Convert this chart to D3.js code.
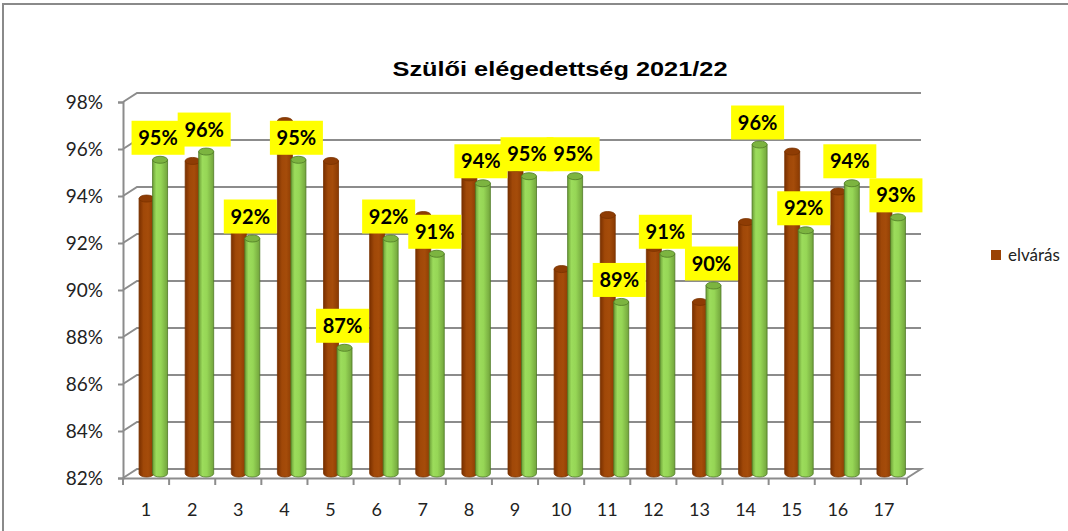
<!DOCTYPE html>
<html><head><meta charset="utf-8">
<script src="https://cdn.jsdelivr.net/npm/d3@7"></script>
<style>
html,body{margin:0;padding:0;background:#fff;}
svg{display:block;}
</style></head>
<body>
<svg id="chart" width="1068" height="531"></svg>
<script>
const title = "Szülői elégedettség 2021/22";
const categories = ["1","2","3","4","5","6","7","8","9","10","11","12","13","14","15","16","17"];
const elvaras = [93.7, 95.3, 92.4, 97.0, 95.3, 92.4, 93.0, 94.6, 95.0, 90.7, 93.0, 91.6, 89.3, 92.7, 95.7, 94.0, 93.3];
const elegedettseg = [95.35, 95.7, 92.0, 95.35, 87.35, 92.0, 91.35, 94.35, 94.65, 94.65, 89.3, 91.35, 90.0, 96.0, 92.35, 94.35, 92.9];
const yTicks = [82, 84, 86, 88, 90, 92, 94, 96, 98];
const legendLabel = "elvárás";

const svg = d3.select("#chart");
const defs = svg.append("defs");

// geometry
const X0 = 123, X1 = 907, DX = 14, DY = -9;
const x = d3.scaleBand().domain(categories).range([X0, X1]).paddingInner(0).paddingOuter(0);
const yF = d3.scaleLinear().domain([82, 98]).range([478, 102]);
const yMid = v => yF(v) + DY / 2;

// frame
svg.append("rect").attr("x", 3).attr("y", 4).attr("width", 1100).attr("height", 560)
  .attr("fill", "none").attr("stroke", "#8a8a8a").attr("stroke-width", 2);

// title
svg.append("text").attr("x", 560).attr("y", 76).attr("text-anchor", "middle")
  .attr("font-family", "Liberation Sans, Arial, sans-serif").attr("font-weight", "bold")
  .attr("font-size", 20).attr("textLength", 335).attr("lengthAdjust", "spacingAndGlyphs")
  .attr("fill", "#000").text(title);

// gradients
function cylGrad(id, stops) {
  const g = defs.append("linearGradient").attr("id", id).attr("x1", "0").attr("x2", "1").attr("y1", "0").attr("y2", "0");
  stops.forEach(s => g.append("stop").attr("offset", s[0]).attr("stop-color", s[1]));
}
cylGrad("gBrown", [[0, "#7a3000"], [0.3, "#a04808"], [0.6, "#a54c0a"], [1, "#8a3a02"]]);
cylGrad("gGreen", [[0, "#6c9e36"], [0.25, "#9cdc5c"], [0.55, "#96d656"], [1, "#72a43c"]]);

// walls and gridlines
const grid = svg.append("g").attr("stroke", "#8c8c8c").attr("stroke-width", 2).attr("fill", "none");
yTicks.forEach(t => {
  const yy = yF(t);
  if (t === 82) {
    grid.append("path").attr("d",
      `M${X0},${yy} L${X0 + DX},${yy + DY} L${X1 + DX},${yy + DY} L${X1},${yy}`);
  } else {
    grid.append("path").attr("d", `M${X0},${yy} L${X0 + DX},${yy + DY} L${X1 + DX},${yy + DY}`);
  }
});

// y axis
const yAxis = svg.append("g").attr("transform", `translate(${X0},0)`)
  .call(d3.axisLeft(yF).tickValues(yTicks).tickSize(5).tickPadding(15).tickFormat(d => d + "%"));
yAxis.select(".domain").attr("stroke", "#8c8c8c").attr("stroke-width", 2);
yAxis.selectAll(".tick line").attr("stroke", "#8c8c8c").attr("stroke-width", 2);
yAxis.selectAll(".tick text").attr("font-family", "Lato, Carlito, Calibri, sans-serif")
  .attr("font-size", 19).attr("fill", "#222");

// x axis
const xAxis = svg.append("g").attr("transform", `translate(0,${yF(82)})`)
  .call(d3.axisBottom(x).tickSize(0).tickPadding(25));
xAxis.select(".domain").attr("stroke", "#8c8c8c").attr("stroke-width", 2);
xAxis.selectAll(".tick text").attr("font-family", "Lato, Carlito, Calibri, sans-serif")
  .attr("font-size", 18).attr("fill", "#222");
// band boundary ticks
const bounds = categories.map(c => x(c)).concat([x(categories[categories.length - 1]) + x.bandwidth()]);
svg.append("g").selectAll("line").data(bounds).join("line")
  .attr("x1", d => d).attr("x2", d => d).attr("y1", yF(82)).attr("y2", yF(82) + 7)
  .attr("stroke", "#8c8c8c").attr("stroke-width", 2);

// bars (cylinders)
const BW = 15, RY = 3.5;
function cylinder(g, cx, v, fill, topFill, stroke) {
  const yt = yMid(v), yb = yMid(82);
  g.append("path")
    .attr("d", `M${cx - BW / 2},${yt} L${cx - BW / 2},${yb} A${BW / 2},${RY} 0 0 0 ${cx + BW / 2},${yb} L${cx + BW / 2},${yt} Z`)
    .attr("fill", fill).attr("stroke", stroke).attr("stroke-width", 0.8);
  g.append("ellipse").attr("cx", cx).attr("cy", yt).attr("rx", BW / 2).attr("ry", RY)
    .attr("fill", topFill).attr("stroke", stroke).attr("stroke-width", 0.8);
}
const bars = svg.append("g");
categories.forEach((c, i) => {
  const gc = x(c) + x.bandwidth() / 2 + DX / 2;
  cylinder(bars, gc - 6.5, elvaras[i], "url(#gBrown)", "#8e3c04", "#7a3200");
  cylinder(bars, gc + 7, elegedettseg[i], "url(#gGreen)", "#7cb440", "#4f7a26");
});

// data labels
const fmt = v => Math.round(v) + "%";
const labels = svg.append("g");
categories.forEach((c, i) => {
  const cx = x(c) + x.bandwidth() / 2 + DX / 2 + 7 - 2;
  const yb = yMid(elegedettseg[i]) - 5;
  labels.append("rect").attr("x", cx - 26.5).attr("y", yb - 34).attr("width", 53).attr("height", 34)
    .attr("fill", "#ffff00");
  labels.append("text").attr("x", cx).attr("y", yb - 10).attr("text-anchor", "middle")
    .attr("font-family", "Lato, Carlito, Calibri, sans-serif").attr("font-weight", "bold")
    .attr("font-size", 20).attr("fill", "#000").text(fmt(elegedettseg[i]));
});

// legend
svg.append("rect").attr("x", 991).attr("y", 250).attr("width", 10).attr("height", 10).attr("fill", "#9a4204");
svg.append("text").attr("x", 1008).attr("y", 261).attr("font-family", "Lato, Carlito, Calibri, sans-serif")
  .attr("font-size", 17).attr("fill", "#222").text(legendLabel);
</script>
</body></html>
